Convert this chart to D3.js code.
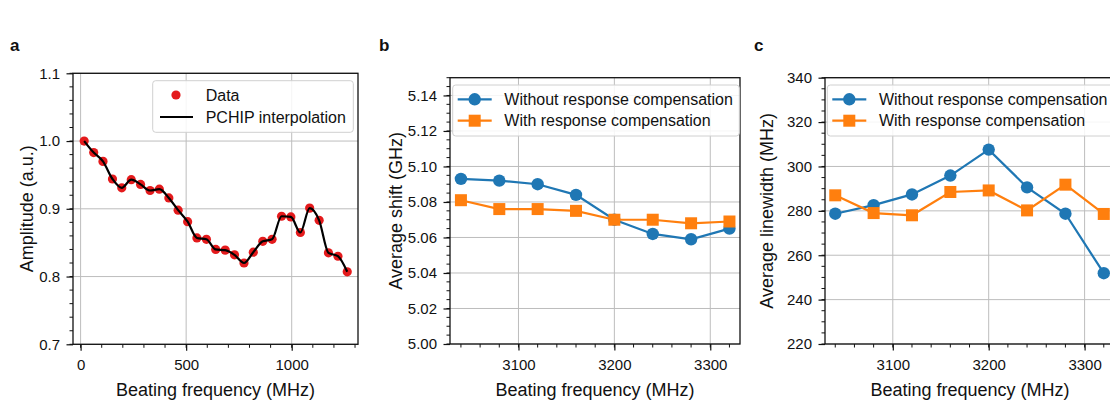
<!DOCTYPE html>
<html>
<head>
<meta charset="utf-8">
<script src="https://cdn.jsdelivr.net/npm/d3@7"></script>
<style>
  body { margin: 0; background: #fff; }
  svg { font-family: "Liberation Sans", Arial, sans-serif; }
  .tick text { font-size: 15px; fill: #111; }
  .domain { display: none; }
</style>
</head>
<body>
<svg id="chart" width="1110" height="405"></svg>
<script>
// ---- data ----
// panel a: amplitude vs beating frequency
var ampFreq = [17, 62, 106, 151, 195, 240, 284, 329, 373, 418, 462, 507, 551, 596, 640,
               685, 729, 774, 818, 863, 907, 952, 996, 1041, 1085, 1130, 1174, 1219, 1263];
var ampValues = [1.000, 0.983, 0.970, 0.944, 0.931, 0.943, 0.936, 0.927, 0.929, 0.916,
                 0.898, 0.881, 0.857, 0.855, 0.840, 0.839, 0.832, 0.820, 0.836, 0.852,
                 0.855, 0.889, 0.888, 0.865, 0.901, 0.883, 0.835, 0.830, 0.807];

// panels b and c share the same frequencies
var beatFreq = [3040, 3080, 3120, 3160, 3200, 3240, 3280, 3320];
var shiftWithout = [5.093, 5.092, 5.090, 5.084, 5.070, 5.062, 5.059, 5.065];
var shiftWith    = [5.081, 5.076, 5.076, 5.075, 5.070, 5.070, 5.068, 5.069];
var widthWithout = [278.7, 282.6, 287.4, 295.9, 307.6, 290.6, 278.7, 251.9];
var widthWith    = [287.0, 279.0, 278.0, 288.5, 289.2, 280.2, 291.8, 278.6];

var ampTicks = [0.7, 0.8, 0.9, 1.0, 1.1];
var ampXTicks = [0, 500, 1000];
var shiftTicks = [5.00, 5.02, 5.04, 5.06, 5.08, 5.10, 5.12, 5.14];
var widthTicks = [220, 240, 260, 280, 300, 320, 340];
var beatTicks = [3100, 3200, 3300];

var legendNames = ["Without response compensation", "With response compensation"];
var blue = "#1f77b4", orange = "#ff7f0e", red = "#e41a1c";

var svg = d3.select("#chart");

// draws axes, grid, ticks and labels for one panel; returns the scales and group
function makePanel(o) {
  var x = d3.scaleLinear().domain(o.xdom).range([o.left, o.right]);
  var y = d3.scaleLinear().domain(o.ydom).range([o.bottom, o.top]);
  var g = svg.append("g");

  // grid
  g.selectAll("line.gx").data(o.xticks).enter().append("line")
    .attr("x1", d => x(d)).attr("x2", d => x(d))
    .attr("y1", o.top).attr("y2", o.bottom)
    .attr("stroke", "#bdbdbd").attr("stroke-width", 1);
  g.selectAll("line.gy").data(o.yticks).enter().append("line")
    .attr("x1", o.left).attr("x2", o.right)
    .attr("y1", d => y(d)).attr("y2", d => y(d))
    .attr("stroke", "#bdbdbd").attr("stroke-width", 1);

  // minor ticks
  var x0 = Math.ceil(o.xdom[0] / o.xminor) * o.xminor;
  var xmin = d3.range(0, 200).map(i => x0 + i * o.xminor).filter(d => d <= o.xdom[1]);
  var ymin = d3.range(0, 200).map(i => o.ydom[0] + i * o.yminor).filter(d => d <= o.ydom[1] + 1e-9);
  g.selectAll("line.mx").data(xmin).enter().append("line")
    .attr("x1", d => x(d)).attr("x2", d => x(d))
    .attr("y1", o.bottom).attr("y2", o.bottom + 3.5)
    .attr("stroke", "#111").attr("stroke-width", 1);
  g.selectAll("line.my").data(ymin).enter().append("line")
    .attr("x1", o.left - 3.5).attr("x2", o.left)
    .attr("y1", d => y(d)).attr("y2", d => y(d))
    .attr("stroke", "#111").attr("stroke-width", 1);

  // major axes
  g.append("g").attr("transform", "translate(0," + o.bottom + ")")
    .call(d3.axisBottom(x).tickValues(o.xticks).tickSize(6.5).tickPadding(8.5).tickFormat(o.xfmt || d3.format("d")))
    .call(a => a.selectAll(".tick line").attr("stroke", "#111").attr("stroke-width", 1.2));
  g.append("g").attr("transform", "translate(" + o.left + ",0)")
    .call(d3.axisLeft(y).tickValues(o.yticks).tickSize(6.5).tickPadding(6.5).tickFormat(o.yfmt))
    .call(a => a.selectAll(".tick line").attr("stroke", "#111").attr("stroke-width", 1.2));

  // frame
  g.append("rect").attr("x", o.left).attr("y", o.top)
    .attr("width", o.right - o.left).attr("height", o.bottom - o.top)
    .attr("fill", "none").attr("stroke", "#111").attr("stroke-width", 1.3);

  // labels
  svg.append("text").attr("x", (o.left + o.right) / 2).attr("y", 396)
    .attr("text-anchor", "middle").attr("font-size", 18).attr("fill", "#111").text(o.xlabel);
  svg.append("text")
    .attr("transform", "translate(" + o.ylabelX + "," + (o.top + o.bottom) / 2 + ") rotate(-90)")
    .attr("text-anchor", "middle").attr("font-size", 18).attr("fill", "#111").text(o.ylabel);
  svg.append("text").attr("x", o.tagX).attr("y", 51)
    .attr("font-size", 17).attr("font-weight", "bold").attr("fill", "#111").text(o.tag);

  var plot = svg.append("g");
  return {x: x, y: y, plot: plot};
}

function legendBox(g, x0, y0, w, h) {
  g.append("rect").attr("x", x0).attr("y", y0).attr("width", w).attr("height", h)
    .attr("rx", 3).attr("fill", "#fff").attr("fill-opacity", 0.85)
    .attr("stroke", "#d0d0d0").attr("stroke-width", 1);
}

// ---------- panel a ----------
var pa = makePanel({
  left: 73, right: 358, top: 73.3, bottom: 344.3,
  xdom: [-36, 1314], ydom: [0.7, 1.1],
  xticks: ampXTicks, yticks: ampTicks, xminor: 100, yminor: 0.02,
  yfmt: d3.format(".1f"),
  xlabel: "Beating frequency (MHz)", ylabel: "Amplitude (a.u.)",
  ylabelX: 33, tag: "a", tagX: 10
});
var ampData = ampFreq.map((f, i) => ({f: f, v: ampValues[i]}));
pa.plot.selectAll("circle").data(ampData).enter().append("circle")
  .attr("cx", d => pa.x(d.f)).attr("cy", d => pa.y(d.v)).attr("r", 4.6)
  .attr("fill", red);
pa.plot.append("path").datum(ampData)
  .attr("d", d3.line().x(d => pa.x(d.f)).y(d => pa.y(d.v)).curve(d3.curveMonotoneX))
  .attr("fill", "none").attr("stroke", "#000").attr("stroke-width", 2.2);

legendBox(pa.plot, 152.7, 80.7, 200.6, 51.6);
pa.plot.append("circle").attr("cx", 176).attr("cy", 95).attr("r", 4.6).attr("fill", red);
pa.plot.append("line").attr("x1", 160).attr("x2", 193).attr("y1", 117).attr("y2", 117)
  .attr("stroke", "#000").attr("stroke-width", 2.2);
pa.plot.selectAll("text.lg").data(["Data", "PCHIP interpolation"]).enter().append("text")
  .attr("x", 205.7).attr("y", (d, i) => 100.8 + i * 22).attr("font-size", 16).attr("fill", "#111")
  .text(d => d);

// ---------- panels b and c ----------
function seriesPanel(o, without, withc, lg) {
  var p = makePanel(o);
  var line = d3.line().x((d, i) => p.x(beatFreq[i])).y(d => p.y(d));
  p.plot.append("path").datum(without).attr("d", line)
    .attr("fill", "none").attr("stroke", blue).attr("stroke-width", 2.2);
  p.plot.selectAll("circle.s").data(without).enter().append("circle")
    .attr("cx", (d, i) => p.x(beatFreq[i])).attr("cy", d => p.y(d)).attr("r", 6.2)
    .attr("fill", blue);
  p.plot.append("path").datum(withc).attr("d", line)
    .attr("fill", "none").attr("stroke", orange).attr("stroke-width", 2.2);
  p.plot.selectAll("rect.s").data(withc).enter().append("rect")
    .attr("x", (d, i) => p.x(beatFreq[i]) - 6).attr("y", d => p.y(d) - 6)
    .attr("width", 12).attr("height", 12).attr("fill", orange);

  legendBox(p.plot, lg.x, lg.y, lg.w, lg.h);
  var cx = lg.x + 22;
  [blue, orange].forEach(function(c, i) {
    var yy = lg.y + 14.3 + i * 21.4;
    p.plot.append("line").attr("x1", cx - 17).attr("x2", cx + 17).attr("y1", yy).attr("y2", yy)
      .attr("stroke", c).attr("stroke-width", 2.2);
    if (i === 0) p.plot.append("circle").attr("cx", cx).attr("cy", yy).attr("r", 6.2).attr("fill", c);
    else p.plot.append("rect").attr("x", cx - 6).attr("y", yy - 6).attr("width", 12).attr("height", 12).attr("fill", c);
    p.plot.append("text").attr("x", lg.x + 51.6).attr("y", yy + 5.6)
      .attr("font-size", 16).attr("fill", "#111").text(legendNames[i]);
  });
  return p;
}

seriesPanel({
  left: 450, right: 740, top: 77.7, bottom: 344,
  xdom: [3028.6, 3331], ydom: [5.00, 5.15],
  xticks: beatTicks, yticks: shiftTicks, xminor: 20, yminor: 0.005,
  yfmt: d3.format(".2f"),
  xlabel: "Beating frequency (MHz)", ylabel: "Average shift (GHz)",
  ylabelX: 402, tag: "b", tagX: 379
}, shiftWithout, shiftWith, {x: 452.7, y: 85, w: 286.6, h: 51});

seriesPanel({
  left: 825, right: 1115, top: 77.7, bottom: 344,
  xdom: [3029.3, 3331.7], ydom: [220, 340],
  xticks: beatTicks, yticks: widthTicks, xminor: 20, yminor: 5,
  yfmt: d3.format("d"),
  xlabel: "Beating frequency (MHz)", ylabel: "Average linewidth (MHz)",
  ylabelX: 773, tag: "c", tagX: 754
}, widthWithout, widthWith, {x: 827.3, y: 85, w: 286.6, h: 51});
</script>
</body>
</html>
